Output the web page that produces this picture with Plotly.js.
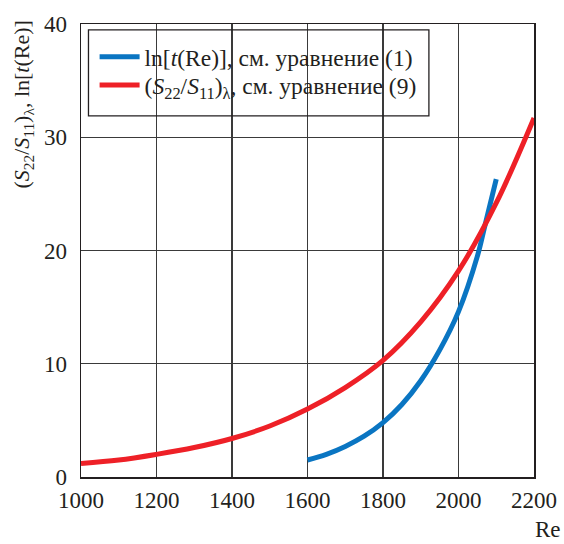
<!DOCTYPE html>
<html><head><meta charset="utf-8">
<script src="https://cdn.plot.ly/plotly-3.0.1.min.js"></script>
<style>body{margin:0;background:#fff}#c{width:564px;height:544px}</style>
</head><body><div id="c"></div>
<script>
const blueRe = [1600, 1650, 1700, 1750, 1800, 1850, 1900, 1950, 2000, 2050, 2070, 2100];
const blueVal = [1.5, 2.0, 2.7, 3.6, 4.8, 6.4, 8.5, 11.2, 14.6, 19.5, 22.2, 26.3];
const redRe = [1000, 1100, 1200, 1300, 1400, 1500, 1600, 1700, 1800, 1900, 2000, 2100, 2200];
const redVal = [1.2, 1.5, 2.0, 2.6, 3.4, 4.5, 6.0, 7.9, 10.3, 13.7, 18.2, 24.2, 31.7];
const xTicks = [1000, 1200, 1400, 1600, 1800, 2000, 2200];
const yTicks = [0, 10, 20, 30, 40];
const blueName = 'ln[<i>t</i>(Re)], см. уравнение (1)';
const redName = '(<i>S</i><sub>22</sub>/<i>S</i><sub>11</sub>)<sub>λ</sub>, см. уравнение (9)';
const yTitle = '(<i>S</i><sub>22</sub>/<i>S</i><sub>11</sub>)<sub>λ</sub>, ln[<i>t</i>(Re)]';
const xTitle = 'Re';

const font = '"Liberation Serif", "Times New Roman", serif';
const ink = '#231f20';
const traces = [
  {x: blueRe, y: blueVal, name: blueName, mode: 'lines', legend: 'legend', line: {color: '#0a75c2', width: 5, shape: 'spline'}},
  {x: redRe, y: redVal, name: redName, mode: 'lines', legend: 'legend2', line: {color: '#ee2027', width: 5, shape: 'spline'}}
];
const legBase = {x: 0.03, xanchor: 'left', yanchor: 'middle', bgcolor: 'rgba(0,0,0,0)', borderwidth: 0,
                 font: {family: font, size: 23.5, color: ink}, itemwidth: 40};
const layout = {
  width: 564, height: 544,
  margin: {l: 80.5, r: 30, t: 24, b: 67},
  paper_bgcolor: '#fff', plot_bgcolor: '#fff',
  font: {family: font, size: 23, color: ink},
  showlegend: true,
  legend: Object.assign({}, legBase, {y: 0.927}),
  legend2: Object.assign({}, legBase, {y: 0.865}),
  xaxis: {range: [1000, 2200], tickvals: xTicks, ticktext: xTicks.map(String), showgrid: true,
          gridcolor: '#3a3a3a', gridwidth: 1.2, showline: true, linecolor: ink, linewidth: 1.5, mirror: true,
          ticks: '', zeroline: false, tickfont: {size: 23}, ticklabelstandoff: 2},
  yaxis: {range: [0, 40], tickvals: yTicks, ticktext: yTicks.map(String), showgrid: true,
          gridcolor: '#3a3a3a', gridwidth: 1.2, showline: true, linecolor: ink, linewidth: 1.5, mirror: true,
          ticks: '', zeroline: false, tickfont: {size: 23}, ticklabelstandoff: 8},
  shapes: [{type: 'rect', xref: 'paper', yref: 'paper', x0: 0.0165, x1: 0.768, y0: 0.797, y1: 0.987,
            line: {color: ink, width: 1.3}, fillcolor: 'rgba(0,0,0,0)'}],
  annotations: [
    {text: yTitle, xref: 'paper', yref: 'paper', x: -0.128, y: 1.012, xanchor: 'center', yanchor: 'top',
     textangle: -90, showarrow: false, font: {family: font, size: 22, color: ink}},
    {text: xTitle, xref: 'paper', yref: 'paper', x: 1.064, y: -0.148, xanchor: 'right', yanchor: 'bottom',
     showarrow: false, font: {family: font, size: 23, color: ink}}
  ]
};
Plotly.newPlot('c', traces, layout, {displayModeBar: false, staticPlot: true});
</script></body></html>
